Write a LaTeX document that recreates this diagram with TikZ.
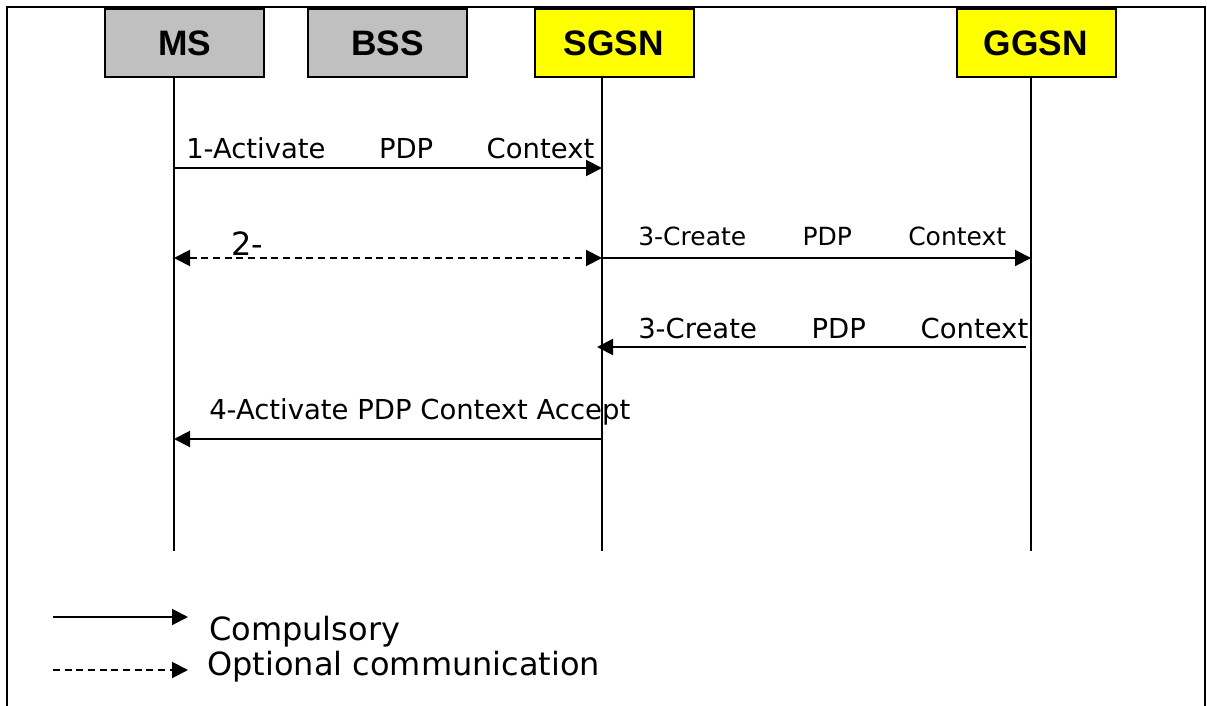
\documentclass[tikz,border=0pt]{standalone}
\usepackage{fontspec}
\setmainfont{DejaVu Sans}
\newfontfamily\headfont{Liberation Sans}
\usetikzlibrary{arrows.meta}
\definecolor{entgray}{HTML}{C0C0C0}
\definecolor{entyellow}{HTML}{FFFF00}
\begin{document}
\begin{tikzpicture}[x=0.75pt,y=-0.75pt,
  entity/.style={draw=black,line width=1.5pt,minimum width=119.25pt,minimum height=51pt,
    inner sep=0pt,text depth=0pt,font=\headfont\bfseries\fontsize{26.5}{26.5}\selectfont},
  lifeline/.style={line width=1.2pt},
  frameline/.style={line width=1.5pt},
  tip/.tip={Triangle[length=12pt,width=12pt]},
  msg/.style={line width=1.5pt,-tip},
  optmsg/.style={msg,dash pattern=on 5.25pt off 3.5pt},
  lbl/.style={anchor=base west,inner sep=0pt,font=\fontsize{20.6}{24}\selectfont},
  lblsmall/.style={lbl,font=\fontsize{18.75}{22}\selectfont},
  lblbig/.style={anchor=base west,inner sep=0pt,font=\fontsize{24}{28}\selectfont}]
\useasboundingbox (0,0) rectangle (1207,706);

% outer frame, open at the bottom
\draw[frameline] (7,706) -- (7,7) -- (1205,7) -- (1205,706);

% network entities
\node[entity,fill=entgray]   (ms)   at (184.5,43) {MS};
\node[entity,fill=entgray]   (bss)  at (387.5,43) {BSS};
\node[entity,fill=entyellow] (sgsn) at (614,43)   {SGSN};
\node[entity,fill=entyellow] (ggsn) at (1036,43)  {GGSN};

% lifelines
\coordinate (msTop)   at (174,77);   \coordinate (msEnd)   at (174,551);
\coordinate (sgsnTop) at (602,77);   \coordinate (sgsnEnd) at (602,551);
\coordinate (ggsnTop) at (1031,77);  \coordinate (ggsnEnd) at (1031,551);
\draw[lifeline] (msTop) -- (msEnd);
\draw[lifeline] (sgsnTop) -- (sgsnEnd);
\draw[lifeline] (ggsnTop) -- (ggsnEnd);

% message anchor points on the lifelines
\coordinate (ms1)   at (174,168);  \coordinate (sgsn1) at (602,168);
\coordinate (ms2)   at (174,258);  \coordinate (sgsn2) at (602,258);
\coordinate (ggsn3) at (1031,258);
\coordinate (ggsn4) at (1026,347); \coordinate (sgsn4) at (597,347);
\coordinate (sgsn5) at (602,439);  \coordinate (ms5)   at (174,439);

% messages
\draw[msg] (ms1) -- (sgsn1);
\node[lbl] (l1) at (186,159) {\hbox to 306pt{1-Activate\hfill PDP\hfill Context}};

\draw[optmsg,tip-tip] (ms2) -- (sgsn2);
\node[lblbig] (l2) at (231,255) {2-};

\draw[msg] (sgsn2) -- (ggsn3);
\node[lblsmall] (l3) at (638,246) {\hbox to 276pt{3-Create\hfill PDP\hfill Context}};

\draw[msg] (ggsn4) -- (sgsn4);
\node[lbl] (l4) at (638,338) {\hbox to 292.5pt{3-Create\hfill PDP\hfill Context}};

\draw[msg] (sgsn5) -- (ms5);
\node[lbl] (l5) at (209,419) {4-Activate PDP Context Accept};

% legend
\coordinate (legA1) at (53,617);  \coordinate (legA2) at (188,617);
\coordinate (legB1) at (53,670);  \coordinate (legB2) at (188,670);
\draw[msg] (legA1) -- (legA2);
\node[lblbig] (legA) at (209,640) {Compulsory};
\draw[optmsg] (legB1) -- (legB2);
\node[lblbig] (legB) at (207,675) {Optional communication};
\end{tikzpicture}
\end{document}
